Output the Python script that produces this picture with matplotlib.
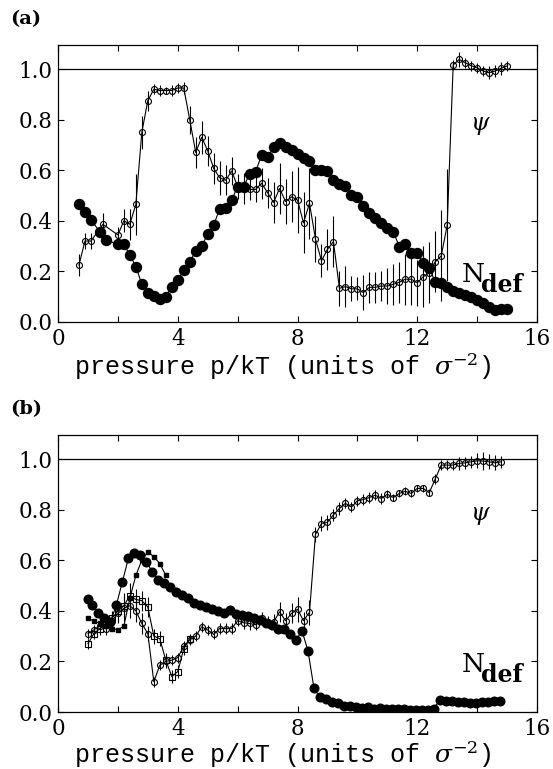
import matplotlib
matplotlib.use("Agg")
import matplotlib.pyplot as plt
from matplotlib.ticker import MultipleLocator

plt.rcParams["font.family"] = "DejaVu Serif"
plt.rcParams["mathtext.fontset"] = "dejavuserif"

# ---- panel (a) ----
psi_a_x = [0.7, 0.9, 1.1, 1.5, 2.0, 2.2, 2.4, 2.6, 2.8, 3.0, 3.2, 3.4, 3.6, 3.8,
           4.0, 4.2, 4.4, 4.6, 4.8, 5.0, 5.2, 5.4, 5.6, 5.8, 6.0, 6.2, 6.4, 6.6,
           6.8, 7.0, 7.2, 7.4, 7.6, 7.8, 8.0, 8.2, 8.4, 8.6, 8.8, 9.0, 9.2, 9.4,
           9.6, 9.8, 10.0, 10.2, 10.4, 10.6, 10.8, 11.0, 11.2, 11.4, 11.6, 11.8,
           12.0, 12.2, 12.4, 12.6, 12.8, 13.0, 13.2, 13.4, 13.6, 13.8, 14.0, 14.2,
           14.4, 14.6, 14.8, 15.0]
psi_a_y = [0.225, 0.32, 0.32, 0.386, 0.344, 0.40, 0.386, 0.465, 0.75, 0.875,
           0.92, 0.915, 0.915, 0.915, 0.925, 0.925, 0.80, 0.67, 0.73, 0.677,
           0.607, 0.57, 0.56, 0.597, 0.535, 0.528, 0.524, 0.524, 0.548, 0.511,
           0.472, 0.528, 0.476, 0.495, 0.482, 0.392, 0.469, 0.328, 0.242, 0.287,
           0.318, 0.133, 0.14, 0.131, 0.131, 0.116, 0.137, 0.137, 0.142, 0.142,
           0.149, 0.157, 0.169, 0.169, 0.155, 0.179, 0.195, 0.238, 0.261, 0.383,
           1.016, 1.038, 1.025, 1.013, 1.005, 0.992, 0.985, 0.992, 1.003, 1.012]
psi_a_err = [0.043, 0.03, 0.03, 0.045, 0.03, 0.045, 0.06, 0.12, 0.065, 0.04,
             0.02, 0.02, 0.015, 0.02, 0.02, 0.025,
             0.055, 0.06, 0.065, 0.06, 0.06, 0.068, 0.06, 0.057, 0.05, 0.06,
             0.04, 0.05, 0.06, 0.06, 0.08, 0.1, 0.09, 0.1, 0.13, 0.12,
             0.14, 0.09, 0.065, 0.08, 0.1, 0.07, 0.08, 0.05, 0.045, 0.07,
             0.06, 0.06, 0.06, 0.07, 0.08, 0.08, 0.1, 0.1, 0.09, 0.12,
             0.12, 0.12, 0.18, 0.22,
             0.02, 0.03, 0.02, 0.02, 0.02, 0.02, 0.025, 0.025, 0.025, 0.02]

ndef_a_x = [0.7, 0.9, 1.1, 1.4, 1.6, 2.0, 2.2, 2.4, 2.6, 2.8, 3.0, 3.2, 3.4,
            3.6, 3.8, 4.0, 4.2, 4.4, 4.6, 4.8, 5.0, 5.2, 5.4, 5.6, 5.8, 6.0,
            6.2, 6.4, 6.6, 6.8, 7.0, 7.2, 7.4, 7.6, 7.8, 8.0, 8.2, 8.4, 8.6,
            8.8, 9.0, 9.2, 9.4, 9.6, 9.8, 10.0, 10.2, 10.4, 10.6, 10.8, 11.0,
            11.2, 11.4, 11.6, 11.8, 12.0, 12.2, 12.4, 12.6, 12.8, 13.0, 13.2,
            13.4, 13.6, 13.8, 14.0, 14.2, 14.4, 14.6, 14.8, 15.0]
ndef_a_y = [0.465, 0.436, 0.403, 0.357, 0.324, 0.307, 0.307, 0.265, 0.219,
            0.149, 0.116, 0.103, 0.09, 0.10, 0.14, 0.166, 0.206, 0.238, 0.28,
            0.30, 0.347, 0.383, 0.447, 0.449, 0.482, 0.535, 0.535, 0.585,
            0.594, 0.66, 0.652, 0.69, 0.709, 0.693, 0.68, 0.666, 0.65, 0.638,
            0.60, 0.60, 0.597, 0.561, 0.545, 0.538, 0.50, 0.496, 0.46, 0.43,
            0.41, 0.39, 0.37, 0.357, 0.298, 0.308, 0.271, 0.271, 0.232, 0.212,
            0.159, 0.153, 0.137, 0.124, 0.116, 0.107, 0.10, 0.087, 0.076, 0.06,
            0.047, 0.05, 0.05]

# ---- panel (b) ----
psi_b_x = [1.0, 1.2, 1.4, 1.6, 1.8, 2.0, 2.2, 2.4, 2.6, 2.8, 3.0, 3.2, 3.4,
           3.6, 3.8, 4.0, 4.2, 4.4, 4.6, 4.8, 5.0, 5.2, 5.4, 5.6, 5.8, 6.0,
           6.2, 6.4, 6.6, 6.8, 7.0, 7.2, 7.4, 7.6, 7.8, 8.0, 8.2, 8.4, 8.6,
           8.8, 9.0, 9.2, 9.4, 9.6, 9.8, 10.0, 10.2, 10.4, 10.6, 10.8, 11.0,
           11.2, 11.4, 11.6, 11.8, 12.0, 12.2, 12.4, 12.6, 12.8, 13.0, 13.2,
           13.4, 13.6, 13.8, 14.0, 14.2, 14.4, 14.6, 14.8]
psi_b_y = [0.31, 0.325, 0.34, 0.33, 0.36, 0.39, 0.41, 0.42, 0.40, 0.35, 0.31,
           0.12, 0.185, 0.20, 0.205, 0.215, 0.26, 0.285, 0.30, 0.337, 0.324,
           0.307, 0.33, 0.33, 0.33, 0.361, 0.353, 0.35, 0.345, 0.37, 0.356,
           0.356, 0.396, 0.361, 0.39, 0.406, 0.361, 0.394, 0.702, 0.745, 0.75,
           0.779, 0.805, 0.825, 0.81, 0.835, 0.84, 0.848, 0.857, 0.844, 0.861,
           0.848, 0.864, 0.873, 0.864, 0.884, 0.884, 0.867, 0.921, 0.976,
           0.976, 0.976, 0.983, 0.985, 0.989, 0.993, 0.992, 0.989, 0.985, 0.989]
psi_b_err = [0.02, 0.02, 0.02, 0.025, 0.03, 0.04, 0.05, 0.05, 0.045, 0.04,
             0.03, 0.02, 0.02, 0.02, 0.02, 0.02, 0.02, 0.02, 0.02, 0.02,
             0.02, 0.02, 0.02, 0.02, 0.02, 0.02, 0.025, 0.025, 0.02, 0.025,
             0.025, 0.03, 0.04, 0.03, 0.04, 0.05, 0.035, 0.05, 0.03, 0.03,
             0.03, 0.025, 0.025, 0.02, 0.02, 0.02, 0.02, 0.02, 0.02, 0.02,
             0.015, 0.015, 0.015, 0.015, 0.015, 0.015, 0.015, 0.015, 0.02, 0.02,
             0.02, 0.02, 0.025, 0.025, 0.025, 0.03, 0.035, 0.03, 0.03, 0.025]

psi2_b_x = [1.0, 1.2, 1.4, 1.6, 1.8, 2.0, 2.2, 2.4, 2.6, 2.8, 3.0, 3.2, 3.4,
            3.6, 3.8, 4.0, 4.2, 4.4]
psi2_b_y = [0.27, 0.31, 0.33, 0.35, 0.37, 0.40, 0.42, 0.46, 0.445, 0.44, 0.415,
            0.30, 0.29, 0.205, 0.14, 0.16, 0.25, 0.29]
psi2_b_err = [0.02, 0.02, 0.025, 0.03, 0.03, 0.04, 0.05, 0.05, 0.04, 0.04, 0.04,
              0.03, 0.03, 0.03, 0.025, 0.025, 0.025, 0.02]

ndef_b_x = [1.0, 1.15, 1.35, 1.55, 1.75, 1.95, 2.15, 2.35, 2.55, 2.75, 2.95,
            3.15, 3.35, 3.55, 3.75, 3.95, 4.15, 4.35, 4.55, 4.75, 4.95, 5.15,
            5.35, 5.55, 5.75, 5.95, 6.15, 6.35, 6.55, 6.75, 6.95, 7.15, 7.35,
            7.55, 7.75, 7.95, 8.15, 8.35, 8.55, 8.75, 8.95, 9.15, 9.35, 9.55,
            9.75, 9.95, 10.15, 10.35, 10.55, 10.75, 10.95, 11.15, 11.35, 11.55,
            11.75, 11.95, 12.15, 12.35, 12.55, 12.75, 12.95, 13.15, 13.35,
            13.55, 13.75, 13.95, 14.15, 14.35, 14.55, 14.75]
ndef_b_y = [0.445, 0.423, 0.393, 0.37, 0.357, 0.423, 0.515, 0.607, 0.63, 0.62,
            0.594, 0.555, 0.522, 0.509, 0.495, 0.475, 0.462, 0.449, 0.432,
            0.423, 0.414, 0.406, 0.40, 0.39, 0.403, 0.387, 0.385, 0.38, 0.37,
            0.364, 0.35, 0.345, 0.33, 0.33, 0.308, 0.285, 0.321, 0.242, 0.094,
            0.058, 0.051, 0.041, 0.037, 0.025, 0.022, 0.019, 0.015, 0.021,
            0.013, 0.015, 0.013, 0.012, 0.01, 0.01, 0.008, 0.008, 0.008, 0.006,
            0.012, 0.048, 0.045, 0.042, 0.04, 0.038, 0.036, 0.036, 0.04, 0.04,
            0.042, 0.042]

ndef2_b_x = [1.0, 1.2, 1.4, 1.6, 1.8, 2.0, 2.2, 2.4, 2.6, 2.8, 3.0, 3.2, 3.4,
             3.6]
ndef2_b_y = [0.37, 0.36, 0.35, 0.34, 0.33, 0.325, 0.34, 0.45, 0.54, 0.60,
             0.633, 0.614, 0.587, 0.54]

fig = plt.figure(figsize=(5.53, 7.69), dpi=100)
ax_a = fig.add_axes([0.1049, 0.5813, 0.8662, 0.3602])
ax_b = fig.add_axes([0.1049, 0.0741, 0.8662, 0.3602])

line_kw = dict(color="k", lw=0.8)
open_kw = dict(fmt="-o", color="k", mfc="none", mec="k", ms=4.3, mew=0.8,
               lw=0.8, elinewidth=0.8, capsize=0)

# (a)
ax_a.plot(ndef_a_x, ndef_a_y, "-o", ms=7.2, mfc="k", mec="k", **line_kw)
ax_a.errorbar(psi_a_x, psi_a_y, yerr=psi_a_err, **open_kw)

# (b)
ax_b.plot(ndef2_b_x, ndef2_b_y, "-s", ms=3.4, mfc="k", mec="k", **line_kw)
ax_b.plot(ndef_b_x, ndef_b_y, "-o", ms=6.2, mfc="k", mec="k", **line_kw)
ax_b.errorbar(psi2_b_x, psi2_b_y, yerr=psi2_b_err,
              **{**open_kw, "fmt": "-s", "ms": 3.8})
ax_b.errorbar(psi_b_x, psi_b_y, yerr=psi_b_err, **open_kw)

for ax, tag, label_y in [(ax_a, "(a)", -0.105), (ax_b, "(b)", -0.097)]:
    ax.axhline(1.0, color="k", lw=0.9)
    ax.set_xlim(0, 16)
    ax.set_ylim(0, 1.095)
    ax.xaxis.set_major_locator(MultipleLocator(4))
    ax.xaxis.set_minor_locator(MultipleLocator(2))
    ax.yaxis.set_major_locator(MultipleLocator(0.2))
    ax.yaxis.set_major_formatter(plt.FormatStrFormatter("%.1f"))
    ax.tick_params(which="both", direction="in", top=True, right=True,
                   length=4, width=0.8, labelsize=15.5, pad=4)
    for sp in ax.spines.values():
        sp.set_linewidth(0.9)
    ax.set_xlabel(r"pressure p/kT (units of $\sigma^{-2}$)",
                  family="Liberation Mono", fontsize=18)
    ax.xaxis.set_label_coords(0.47, label_y)
    ax.text(14.1, 0.775, r"$\psi$", fontsize=17, ha="center", va="center")
    ax.text(13.47, 0.158, "N", fontsize=19, ha="left", va="baseline")
    ax.text(14.12, 0.118, "def", fontsize=17, fontweight="bold",
            ha="left", va="baseline")
    ax.text(-0.1, 1.06, tag, transform=ax.transAxes, fontsize=14,
            fontweight="bold", ha="left", va="bottom")

fig.savefig("out.png", dpi=100)
